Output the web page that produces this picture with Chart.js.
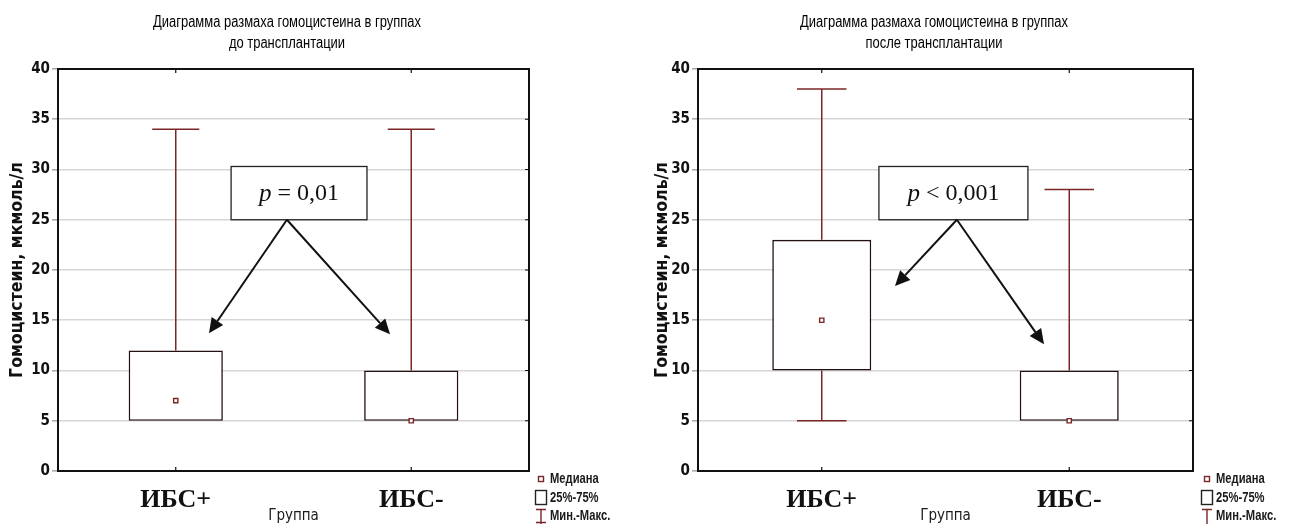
<!DOCTYPE html>
<html><head><meta charset="utf-8">
<script src="https://cdn.jsdelivr.net/npm/chart.js@4.4.1/dist/chart.umd.min.js"></script>
<style>
html,body{margin:0;padding:0;background:#fff;}
#wrap{position:relative;width:1289px;height:524px;overflow:hidden;background:#fff;}
canvas{position:absolute;top:0;}
</style></head><body>
<div id="wrap">
<canvas id="c1" width="645" height="524" style="left:0"></canvas>
<canvas id="c2" width="644" height="524" style="left:645px"></canvas>
</div>
<script>
// ---------- data ----------
const categories = ['ИБС+', 'ИБС-'];
// before transplantation
const beforeMin = [5, 5];
const beforeQ1 = [5, 5];
const beforeMedian = [7, 5];
const beforeQ3 = [12, 10];
const beforeMax = [34, 34];
// after transplantation
const afterMin = [5, 5];
const afterQ1 = [10, 5];
const afterMedian = [15, 5];
const afterQ3 = [23, 10];
const afterMax = [38, 28];
// axis
const yMin = 0, yMax = 40, yStep = 5;
// texts
const titleBefore = ['Диаграмма размаха гомоцистеина в группах', 'до трансплантации'];
const titleAfter = ['Диаграмма размаха гомоцистеина в группах', 'после трансплантации'];
const yAxisTitle = 'Гомоцистеин, мкмоль/л';
const xAxisTitle = 'Группа';
const legendLabels = ['Медиана', '25%-75%', 'Мин.-Макс.'];
const pBefore = ['p', ' = 0,01'];
const pAfter = ['p', ' < 0,001'];

// ---------- styles ----------
const MAROON = '#7a2626';
const BOXLINE = '#241010';
const GRID = '#d6d6d6';
const NARROW = '"Liberation Sans Narrow", "Arial Narrow", "DejaVu Sans Condensed", sans-serif';
const SANS = '"Liberation Sans", Arial, sans-serif';
const SERIF = '"Liberation Serif", "Times New Roman", serif';

function arrow(ctx, x0, y0, x1, y1) {
  const ang = Math.atan2(y1 - y0, x1 - x0);
  const hl = 15, hw = 7;
  const bx = x1 - hl * Math.cos(ang), by = y1 - hl * Math.sin(ang);
  ctx.beginPath();
  ctx.moveTo(x0, y0); ctx.lineTo(bx, by);
  ctx.stroke();
  ctx.beginPath();
  ctx.moveTo(x1, y1);
  ctx.lineTo(bx + hw * Math.sin(ang), by - hw * Math.cos(ang));
  ctx.lineTo(bx - hw * Math.sin(ang), by + hw * Math.cos(ang));
  ctx.closePath();
  ctx.fill();
}

// draw text squeezed horizontally (narrow look)
function narrowText(ctx, text, x, y, sx, align) {
  ctx.save();
  ctx.translate(x, y);
  ctx.scale(sx, 1);
  ctx.textAlign = align;
  ctx.fillText(text, 0, 0);
  ctx.restore();
}

const extras = {
  id: 'extras',
  beforeDatasetsDraw(chart) {
    const o = chart.options.plugins.extras;
    const ctx = chart.ctx, xs = chart.scales.x, ys = chart.scales.y;
    const meta = chart.getDatasetMeta(1);
    ctx.save();
    ctx.strokeStyle = MAROON; ctx.lineWidth = 1.5;
    for (let i = 0; i < o.min.length; i++) {
      const x = xs.getPixelForValue(i);
      const w = meta.data[i] ? meta.data[i].width : 90;
      const cw = w / 2;
      const yq3 = ys.getPixelForValue(o.q3[i]), ymax = ys.getPixelForValue(o.max[i]);
      const yq1 = ys.getPixelForValue(o.q1[i]), ymin = ys.getPixelForValue(o.min[i]);
      ctx.beginPath();
      ctx.moveTo(x, yq3); ctx.lineTo(x, ymax);
      ctx.moveTo(x - cw / 2, ymax); ctx.lineTo(x + cw / 2, ymax);
      if (o.min[i] < o.q1[i]) {
        ctx.moveTo(x, yq1); ctx.lineTo(x, ymin);
        ctx.moveTo(x - cw / 2, ymin); ctx.lineTo(x + cw / 2, ymin);
      }
      ctx.stroke();
    }
    ctx.restore();
  },
  afterDraw(chart) {
    const o = chart.options.plugins.extras;
    const ctx = chart.ctx, xs = chart.scales.x, ys = chart.scales.y;
    const a = chart.chartArea;
    ctx.save();
    // frame
    ctx.strokeStyle = '#111'; ctx.lineWidth = 2;
    ctx.strokeRect(a.left, a.top, a.right - a.left, a.bottom - a.top);
    // inner tick marks
    ctx.lineWidth = 1.2;
    ctx.beginPath();
    for (let i = 0; i < o.min.length; i++) {
      const x = xs.getPixelForValue(i);
      ctx.moveTo(x, a.top); ctx.lineTo(x, a.top + 4);
      ctx.moveTo(x, a.bottom); ctx.lineTo(x, a.bottom - 4);
    }
    for (let v = yMin + yStep; v < yMax; v += yStep) {
      const y = ys.getPixelForValue(v);
      ctx.moveTo(a.right, y); ctx.lineTo(a.right - 4, y);
    }
    ctx.stroke();
    // title
    ctx.fillStyle = '#000';
    ctx.font = '16px ' + SANS;
    ctx.textBaseline = 'middle';
    o.title.forEach((t, k) => narrowText(ctx, t, o.titleX, 23 + k * 21, 0.81, 'center'));
    // p annotation
    const an = o.ann;
    const bx0 = xs.getPixelForValue(an.box[0]), bx1 = xs.getPixelForValue(an.box[1]);
    const by0 = ys.getPixelForValue(an.box[2]), by1 = ys.getPixelForValue(an.box[3]);
    ctx.fillStyle = '#fff';
    ctx.fillRect(bx0, by0, bx1 - bx0, by1 - by0);
    ctx.strokeStyle = '#222'; ctx.lineWidth = 1.3;
    ctx.strokeRect(bx0, by0, bx1 - bx0, by1 - by0);
    ctx.fillStyle = '#111';
    const f1 = 'italic 25px ' + SERIF, f2 = '24px ' + SERIF;
    ctx.font = f1; const w1 = ctx.measureText(o.p[0]).width;
    ctx.font = f2; const w2 = ctx.measureText(o.p[1]).width;
    const tx = (bx0 + bx1) / 2 - (w1 + w2) / 2, ty = (by0 + by1) / 2 + 1;
    ctx.textAlign = 'left'; ctx.textBaseline = 'middle';
    ctx.font = f1; ctx.fillText(o.p[0], tx, ty);
    ctx.font = f2; ctx.fillText(o.p[1], tx + w1, ty);
    ctx.strokeStyle = '#111'; ctx.fillStyle = '#111'; ctx.lineWidth = 2;
    const ax = xs.getPixelForValue(an.apex[0]), ay = ys.getPixelForValue(an.apex[1]);
    an.tips.forEach(t => arrow(ctx, ax, ay, xs.getPixelForValue(t[0]), ys.getPixelForValue(t[1])));
    // legend
    const lx = a.right + o.legendDx;
    ctx.lineWidth = 1.4;
    ctx.strokeStyle = MAROON;
    ctx.strokeRect(lx - 2.5, 476.5, 5, 5);
    ctx.strokeStyle = '#222';
    ctx.strokeRect(lx - 5.5, 490.5, 11, 14);
    ctx.strokeStyle = MAROON;
    ctx.beginPath();
    ctx.moveTo(lx - 5, 509.5); ctx.lineTo(lx + 5, 509.5);
    ctx.moveTo(lx, 509.5); ctx.lineTo(lx, 524);
    if (o.legendI) { ctx.moveTo(lx - 5, 522.5); ctx.lineTo(lx + 5, 522.5); }
    ctx.stroke();
    ctx.fillStyle = '#1a1a1a';
    ctx.font = 'bold 14px ' + SANS;
    ctx.textBaseline = 'middle';
    narrowText(ctx, legendLabels[0], lx + 9, 479, 0.8, 'left');
    narrowText(ctx, legendLabels[1], lx + 9, 498, 0.8, 'left');
    narrowText(ctx, legendLabels[2], lx + 9, 516, 0.8, 'left');
    ctx.restore();
  }
};

function makeChart(id, d, opt) {
  const boxData = d.q1.map((v, i) => [v, d.q3[i]]);
  return new Chart(document.getElementById(id), {
    type: 'bar',
    data: {
      labels: categories,
      datasets: [
        {
          type: 'line', label: 'Медиана', data: d.median, showLine: false,
          pointStyle: 'rect', pointRadius: 3, borderColor: MAROON, backgroundColor: '#fff',
          pointBorderWidth: 1.4, order: 0
        },
        {
          type: 'bar', label: '25%-75%', data: boxData, backgroundColor: '#fff',
          borderColor: BOXLINE, borderWidth: 1.6, borderSkipped: false,
          barPercentage: 0.4, categoryPercentage: 1, order: 1
        }
      ]
    },
    plugins: [extras],
    options: {
      responsive: false, animation: false, devicePixelRatio: 1,
      layout: { padding: { left: 0, right: opt.padRight, top: 69, bottom: 0 } },
      plugins: {
        legend: { display: false }, tooltip: { enabled: false },
        extras: Object.assign({}, d, opt)
      },
      scales: {
        x: {
          offset: true,
          grid: { display: false, drawTicks: false },
          border: { display: false },
          ticks: { color: '#111', padding: 14, maxRotation: 0,
                   font: { family: SERIF, size: 26, weight: 'bold' } },
          title: { display: true, text: xAxisTitle, color: '#1a1a1a',
                   font: { family: NARROW, size: 15 }, padding: { top: 0, bottom: -1 } },
          afterFit: s => { s.height = 53; }
        },
        y: {
          min: yMin, max: yMax,
          grid: { color: GRID, lineWidth: 1.6, tickLength: 6, tickColor: '#aaa' },
          border: { display: false },
          ticks: { stepSize: yStep, color: '#111', padding: 2,
                   font: { family: NARROW, size: 15, weight: 'bold' } },
          title: { display: true, text: yAxisTitle, color: '#111',
                   font: { family: NARROW, size: 17.5, weight: 'bold' },
                   padding: { top: 7, bottom: 0 } },
          afterFit: s => { s.width = opt.yWidth; }
        }
      }
    }
  });
}

makeChart('c1',
  { min: beforeMin, q1: beforeQ1, median: beforeMedian, q3: beforeQ3, max: beforeMax },
  { padRight: 116, yWidth: 58, title: titleBefore, titleX: 287, p: pBefore,
    legendDx: 12, legendI: true,
    ann: { box: [0.235, 0.812, 30.3, 25.0], apex: [0.472, 25.0],
           tips: [[0.141, 13.7], [0.91, 13.6]] } });

makeChart('c2',
  { min: afterMin, q1: afterQ1, median: afterMedian, q3: afterQ3, max: afterMax },
  { padRight: 96, yWidth: 53, title: titleAfter, titleX: 289, p: pAfter,
    legendDx: 14, legendI: false,
    ann: { box: [0.231, 0.833, 30.3, 25.0], apex: [0.546, 25.0],
           tips: [[0.296, 18.4], [0.898, 12.6]] } });
</script>
</body></html>
